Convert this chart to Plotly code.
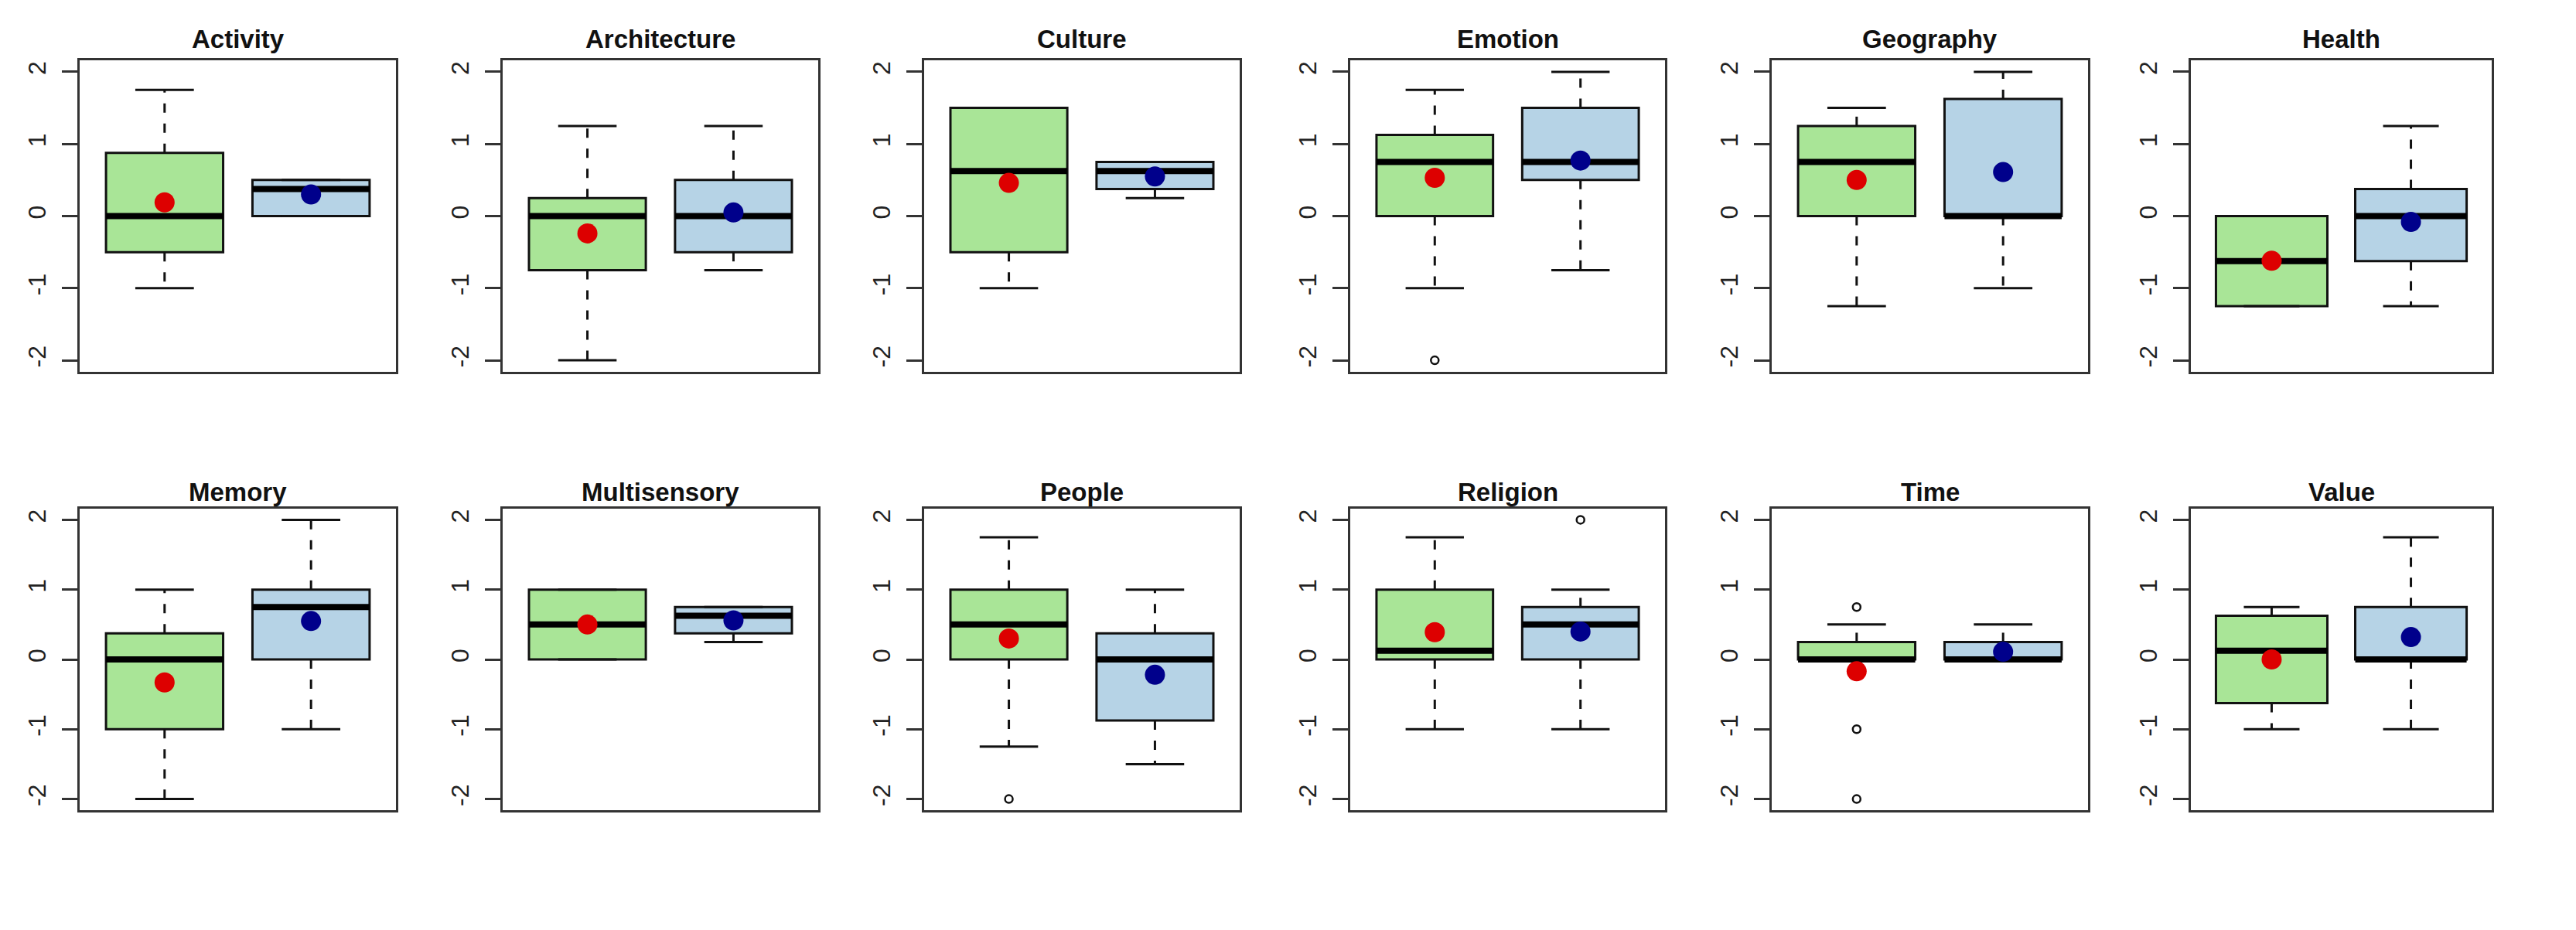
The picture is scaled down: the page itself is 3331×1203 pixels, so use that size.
import plotly.graph_objects as go

categories = ["Activity", "Architecture", "Culture", "Emotion", "Geography", "Health",
              "Memory", "Multisensory", "People", "Religion", "Time", "Value"]

# Group 1 (green boxes, red means)
g_lo = [-1.0, -2.0, -1.0, -1.0, -1.25, -1.25, -2.0, 0.0, -1.25, -1.0, 0.0, -1.0]
g_q1 = [-0.5, -0.75, -0.5, 0.0, 0.0, -1.25, -1.0, 0.0, 0.0, 0.0, 0.0, -0.625]
g_med = [0.0, 0.0, 0.625, 0.75, 0.75, -0.625, 0.0, 0.5, 0.5, 0.125, 0.0, 0.125]
g_q3 = [0.875, 0.25, 1.5, 1.125, 1.25, 0.0, 0.375, 1.0, 1.0, 1.0, 0.25, 0.625]
g_hi = [1.75, 1.25, 1.5, 1.75, 1.5, 0.0, 1.0, 1.0, 1.75, 1.75, 0.5, 0.75]
g_mean = [0.19, -0.24, 0.46, 0.53, 0.50, -0.62, -0.33, 0.50, 0.30, 0.39, -0.17, 0.0]
g_out = [[], [], [], [-2.0], [], [], [], [], [-2.0], [], [0.75, -1.0, -2.0], []]

# Group 2 (blue boxes, dark-blue means)
b_lo = [0.0, -0.75, 0.25, -0.75, -1.0, -1.25, -1.0, 0.25, -1.5, -1.0, 0.0, -1.0]
b_q1 = [0.0, -0.5, 0.375, 0.5, 0.0, -0.625, 0.0, 0.375, -0.875, 0.0, 0.0, 0.0]
b_med = [0.375, 0.0, 0.625, 0.75, 0.0, 0.0, 0.75, 0.625, 0.0, 0.5, 0.0, 0.0]
b_q3 = [0.5, 0.5, 0.75, 1.5, 1.625, 0.375, 1.0, 0.75, 0.375, 0.75, 0.25, 0.75]
b_hi = [0.5, 1.25, 0.75, 2.0, 2.0, 1.25, 2.0, 0.75, 1.0, 1.0, 0.5, 1.75]
b_mean = [0.30, 0.05, 0.55, 0.77, 0.61, -0.08, 0.55, 0.56, -0.22, 0.40, 0.11, 0.32]
b_out = [[], [], [], [], [], [], [], [], [], [2.0], [], []]

y_ticks = [-2, -1, 0, 1, 2]
y_tick_labels = ["-2", "-1", "0", "1", "2"]

# ---- styling / layout geometry (page pixels; page body has an 8px margin) ----
OFF = 8
W, H = 3331 - 2 * OFF, 1203 - 2 * OFF
col_left = [103, 650, 1195, 1746, 2291, 2833]
col_right = [512, 1058, 1603, 2153, 2700, 3222]
row_top = [78, 658]
row_bot = [481, 1048]
title_y = [50, 636]

GREEN = "#A9E597"
BLUE = "#B6D3E6"
RED = "#DD0000"
NAVY = "#00008B"
INK = "#111111"
BOXW = 0.8

fig = go.Figure()
layout = dict(width=W, height=H, margin=dict(l=0, r=0, t=0, b=0, pad=0),
              paper_bgcolor="white", plot_bgcolor="white", showlegend=False,
              boxmode="overlay")
annotations = []

groups = [
    (g_lo, g_q1, g_med, g_q3, g_hi, g_mean, g_out, GREEN, RED),
    (b_lo, b_q1, b_med, b_q3, b_hi, b_mean, b_out, BLUE, NAVY),
]

for i, cat in enumerate(categories):
    r, c = divmod(i, 6)
    n = i + 1
    xa = "x" if n == 1 else f"x{n}"
    ya = "y" if n == 1 else f"y{n}"
    xkey = "xaxis" if n == 1 else f"xaxis{n}"
    ykey = "yaxis" if n == 1 else f"yaxis{n}"
    dx = [(col_left[c] - OFF) / W, (col_right[c] - OFF) / W]
    dy = [1 - (row_bot[r] - OFF) / H, 1 - (row_top[r] - OFF) / H]
    layout[xkey] = dict(domain=dx, anchor=ya, range=[0.42, 2.58], showticklabels=False,
                        ticks="", showgrid=False, zeroline=False, showline=True,
                        mirror=True, linecolor="#333333", linewidth=3, fixedrange=True)
    layout[ykey] = dict(domain=dy, anchor=xa, range=[-2.16, 2.16], tickvals=y_ticks,
                        ticktext=y_tick_labels, tickangle=-90, ticks="outside",
                        ticklen=20, tickwidth=3, tickcolor="#333333",
                        tickfont=dict(family="Liberation Sans", size=32, color="#222222"),
                        ticklabelstandoff=8,
                        showgrid=False, zeroline=False, showline=True, mirror=True,
                        linecolor="#333333", linewidth=3, fixedrange=True)
    annotations.append(dict(text=f"<b>{cat}</b>", x=(dx[0] + dx[1]) / 2,
                            y=1 - (title_y[r] - OFF) / H,
                            xref="paper", yref="paper", xanchor="center", yanchor="middle",
                            showarrow=False,
                            font=dict(family="Liberation Sans", size=33, color=INK)))

    for k, (lo, q1, med, q3, hi, mean, out, fill, mcol) in enumerate(groups):
        xpos = k + 1
        # box body
        fig.add_trace(go.Box(x=[xpos], q1=[q1[i]], median=[med[i]], q3=[q3[i]],
                             lowerfence=[q1[i]], upperfence=[q3[i]], width=BOXW,
                             fillcolor=fill, line=dict(color=INK, width=3),
                             whiskerwidth=0, boxpoints=False, hoverinfo="skip",
                             xaxis=xa, yaxis=ya))
        # dashed whiskers
        for a, b in ((q3[i], hi[i]), (q1[i], lo[i])):
            if a != b:
                fig.add_trace(go.Scatter(x=[xpos, xpos], y=[a, b], mode="lines",
                                         line=dict(color=INK, width=3, dash="12px,14px"),
                                         hoverinfo="skip", xaxis=xa, yaxis=ya))
        # whisker caps
        for v in (hi[i], lo[i]):
            fig.add_trace(go.Scatter(x=[xpos - BOXW / 4, xpos + BOXW / 4], y=[v, v],
                                     mode="lines", line=dict(color=INK, width=3),
                                     hoverinfo="skip", xaxis=xa, yaxis=ya))
        # thick median
        fig.add_trace(go.Scatter(x=[xpos - BOXW / 2, xpos + BOXW / 2], y=[med[i], med[i]],
                                 mode="lines", line=dict(color="#000000", width=8),
                                 hoverinfo="skip", xaxis=xa, yaxis=ya))
        # outliers
        if out[i]:
            fig.add_trace(go.Scatter(x=[xpos] * len(out[i]), y=out[i], mode="markers",
                                     marker=dict(symbol="circle-open", size=10, color=INK,
                                                 line=dict(color=INK, width=2.5)),
                                     hoverinfo="skip", xaxis=xa, yaxis=ya))
        # mean marker
        fig.add_trace(go.Scatter(x=[xpos], y=[mean[i]], mode="markers",
                                 marker=dict(color=mcol, size=26, line=dict(width=0)),
                                 hoverinfo="skip", xaxis=xa, yaxis=ya))

layout["annotations"] = annotations
fig.update_layout(**layout)
fig.write_html("out.html")
